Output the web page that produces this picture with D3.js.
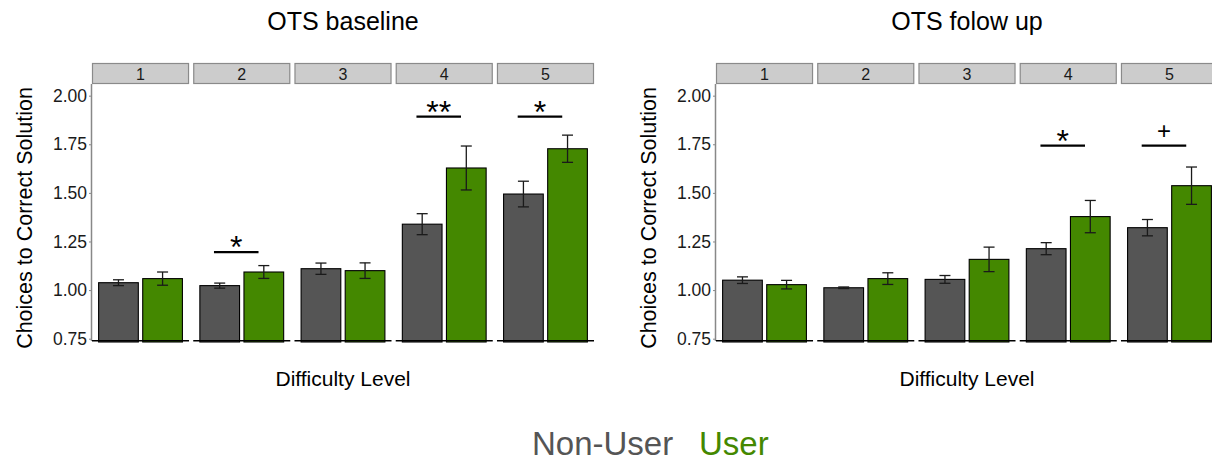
<!DOCTYPE html>
<html>
<head>
<meta charset="utf-8">
<script src="https://cdn.jsdelivr.net/npm/d3@7"></script>
<style>
  body { margin: 0; background: #fff; }
  svg { font-family: "Liberation Sans", Arial, sans-serif; }
</style>
</head>
<body>
<div class="g-chart"></div>
<script>
//Local data
var levels = ["1", "2", "3", "4", "5"];
var groups = ["Non-User", "User"];
var yTicks = [0.75, 1.00, 1.25, 1.50, 1.75, 2.00];

//OTS baseline means and standard errors
var baseNonUser   = [1.038, 1.023, 1.110, 1.339, 1.494];
var baseNonUserSE = [0.015, 0.013, 0.029, 0.054, 0.066];
var baseUser      = [1.059, 1.093, 1.100, 1.628, 1.727];
var baseUserSE    = [0.034, 0.033, 0.040, 0.113, 0.070];

//OTS follow up means and standard errors
var followNonUser   = [1.051, 1.012, 1.055, 1.213, 1.321];
var followNonUserSE = [0.017, 0.004, 0.020, 0.031, 0.042];
var followUser      = [1.028, 1.059, 1.158, 1.378, 1.537];
var followUserSE    = [0.022, 0.030, 0.063, 0.083, 0.096];

//Significance markers: level, label, height of bar
var baseSigLevel  = ["2", "4", "5"];
var baseSigLabel  = ["*", "**", "*"];
var baseSigY      = [1.195, 1.892, 1.892];
var followSigLevel = ["4", "5"];
var followSigLabel = ["*", "+"];
var followSigY     = [1.743, 1.743];

var colors = {"Non-User": "#555555", "User": "#448800"};

var width = 1212, height = 461;

var svg = d3.select(".g-chart").append("svg")
  .attr("width", width)
  .attr("height", height);

//Shared y scale
var yScale = d3.scaleLinear()
  .domain([0.733, 2.06])
  .range([342, 84]);

//Builds rows from the arrays
function makeRows(nonUser, nonUserSE, user, userSE) {
  var rows = [];
  levels.forEach(function(lv, i) {
    rows.push({level: lv, group: "Non-User", mean: nonUser[i], se: nonUserSE[i]});
    rows.push({level: lv, group: "User", mean: user[i], se: userSE[i]});
  });
  return rows;
}

function makeSig(lvls, labels, ys) {
  return lvls.map(function(lv, i) { return {level: lv, label: labels[i], y: ys[i]}; });
}

var panels = [
  {title: "OTS baseline", x0: 92, x1: 594,
   rows: makeRows(baseNonUser, baseNonUserSE, baseUser, baseUserSE),
   sig: makeSig(baseSigLevel, baseSigLabel, baseSigY)},
  {title: "OTS folow up", x0: 716, x1: 1218,
   rows: makeRows(followNonUser, followNonUserSE, followUser, followUserSE),
   sig: makeSig(followSigLevel, followSigLabel, followSigY)}
];

panels.forEach(drawPanel);

function drawPanel(p) {
  var g = svg.append("g");

  //Facet scale
  var fx = d3.scaleBand()
    .domain(levels)
    .range([p.x0, p.x1])
    .paddingInner(0.0415)
    .paddingOuter(0);

  //Bars within each facet
  var gx = d3.scaleBand()
    .domain(groups)
    .range([0, fx.bandwidth()])
    .paddingInner(0.1)
    .paddingOuter(0.15);

  //ggplot-like unit scale within facet
  var ux = d3.scaleLinear()
    .domain([0.4, 2.6])
    .range([0, fx.bandwidth()]);

  var mid = (p.x0 + p.x1) / 2;

  //Title
  g.append("text")
    .attr("x", mid)
    .attr("y", 30)
    .attr("text-anchor", "middle")
    .style("font-size", "25px")
    .style("fill", "#000")
    .text(p.title);

  //Strips
  var strips = g.selectAll(".strip")
    .data(levels)
    .enter()
    .append("g")
    .attr("class", "strip")
    .attr("transform", function(d) { return "translate(" + fx(d) + ",0)"; });

  strips.append("rect")
    .attr("x", 0.5)
    .attr("y", 63.5)
    .attr("width", fx.bandwidth() - 1)
    .attr("height", 20)
    .style("fill", "#cccccc")
    .style("stroke", "#8a8a8a")
    .style("stroke-width", 1.2);

  strips.append("text")
    .attr("x", fx.bandwidth() / 2)
    .attr("y", 80)
    .attr("text-anchor", "middle")
    .style("font-size", "16px")
    .style("fill", "#1a1a1a")
    .text(function(d) { return d; });

  //Y axis
  var yAxis = d3.axisLeft(yScale)
    .tickValues(yTicks)
    .tickFormat(d3.format(".2f"))
    .tickSize(3)
    .tickPadding(2);

  var yAxisGroup = g.append("g")
    .attr("transform", "translate(" + p.x0 + ",0)")
    .call(yAxis);

  yAxisGroup.select(".domain").remove();
  yAxisGroup.selectAll("line").style("stroke", "#888");
  yAxisGroup.selectAll("text")
    .style("font-size", "17.5px")
    .style("font-family", "Liberation Sans, Arial, sans-serif")
    .style("fill", "#1a1a1a");

  g.append("line")
    .attr("x1", p.x0 - 0.5).attr("x2", p.x0 - 0.5)
    .attr("y1", 84).attr("y2", 341)
    .style("stroke", "#888")
    .style("stroke-width", 1.5);

  //Y axis title
  g.append("text")
    .attr("transform", "translate(" + (p.x0 - 60) + ",218) rotate(-90)")
    .attr("text-anchor", "middle")
    .style("font-size", "21.5px")
    .style("fill", "#000")
    .text("Choices to Correct Solution");

  //X axis title
  g.append("text")
    .attr("x", mid)
    .attr("y", 386)
    .attr("text-anchor", "middle")
    .style("font-size", "21px")
    .style("fill", "#000")
    .text("Difficulty Level");

  //Facet groups
  var facets = g.selectAll(".facet")
    .data(levels)
    .enter()
    .append("g")
    .attr("class", "facet")
    .attr("transform", function(d) { return "translate(" + fx(d) + ",0)"; });

  //Bars
  facets.selectAll(".bar")
    .data(function(lv) { return p.rows.filter(function(r) { return r.level === lv; }); })
    .enter()
    .append("rect")
    .attr("class", "bar")
    .attr("x", function(d) { return gx(d.group); })
    .attr("y", function(d) { return yScale(d.mean); })
    .attr("width", gx.bandwidth())
    .attr("height", function(d) { return 342 - yScale(d.mean); })
    .style("fill", function(d) { return colors[d.group]; })
    .style("stroke", "#000")
    .style("stroke-width", 1.1);

  //Bottom line
  facets.append("line")
    .attr("x1", 0)
    .attr("x2", fx.bandwidth())
    .attr("y1", 340.7)
    .attr("y2", 340.7)
    .style("stroke", "#000")
    .style("stroke-width", 1.5);

  //Error bars
  var errs = facets.selectAll(".err")
    .data(function(lv) { return p.rows.filter(function(r) { return r.level === lv; }); })
    .enter()
    .append("g")
    .attr("class", "err")
    .attr("transform", function(d) { return "translate(" + (gx(d.group) + gx.bandwidth() / 2) + ",0)"; })
    .style("stroke", "#1a1a1a")
    .style("stroke-width", 1.3);

  errs.append("line")
    .attr("y1", function(d) { return yScale(d.mean + d.se); })
    .attr("y2", function(d) { return yScale(d.mean - d.se); });
  errs.append("line")
    .attr("x1", -5.5).attr("x2", 5.5)
    .attr("y1", function(d) { return yScale(d.mean + d.se); })
    .attr("y2", function(d) { return yScale(d.mean + d.se); });
  errs.append("line")
    .attr("x1", -5.5).attr("x2", 5.5)
    .attr("y1", function(d) { return yScale(d.mean - d.se); })
    .attr("y2", function(d) { return yScale(d.mean - d.se); });

  //Significance lines and labels
  var sig = g.selectAll(".sig")
    .data(p.sig)
    .enter()
    .append("g")
    .attr("class", "sig")
    .attr("transform", function(d) { return "translate(" + fx(d.level) + ",0)"; });

  sig.append("line")
    .attr("x1", ux(0.87))
    .attr("x2", ux(1.88))
    .attr("y1", function(d) { return yScale(d.y); })
    .attr("y2", function(d) { return yScale(d.y); })
    .style("stroke", "#000")
    .style("stroke-width", 2.2);

  sig.append("text")
    .attr("x", ux(1.375))
    .attr("y", function(d) { return yScale(d.y) + (d.label === "+" ? -6.5 : 6); })
    .attr("text-anchor", "middle")
    .style("font-size", function(d) { return d.label === "+" ? "24px" : "32px"; })
    .style("fill", "#000")
    .text(function(d) { return d.label; });
}

//Legend
var legend = svg.append("text")
  .attr("x", 532)
  .attr("y", 455)
  .style("font-size", "33px");

legend.append("tspan")
  .style("fill", colors["Non-User"])
  .text(groups[0]);

legend.append("tspan")
  .attr("x", 699)
  .style("fill", colors["User"])
  .text(groups[1]);
</script>
</body>
</html>
